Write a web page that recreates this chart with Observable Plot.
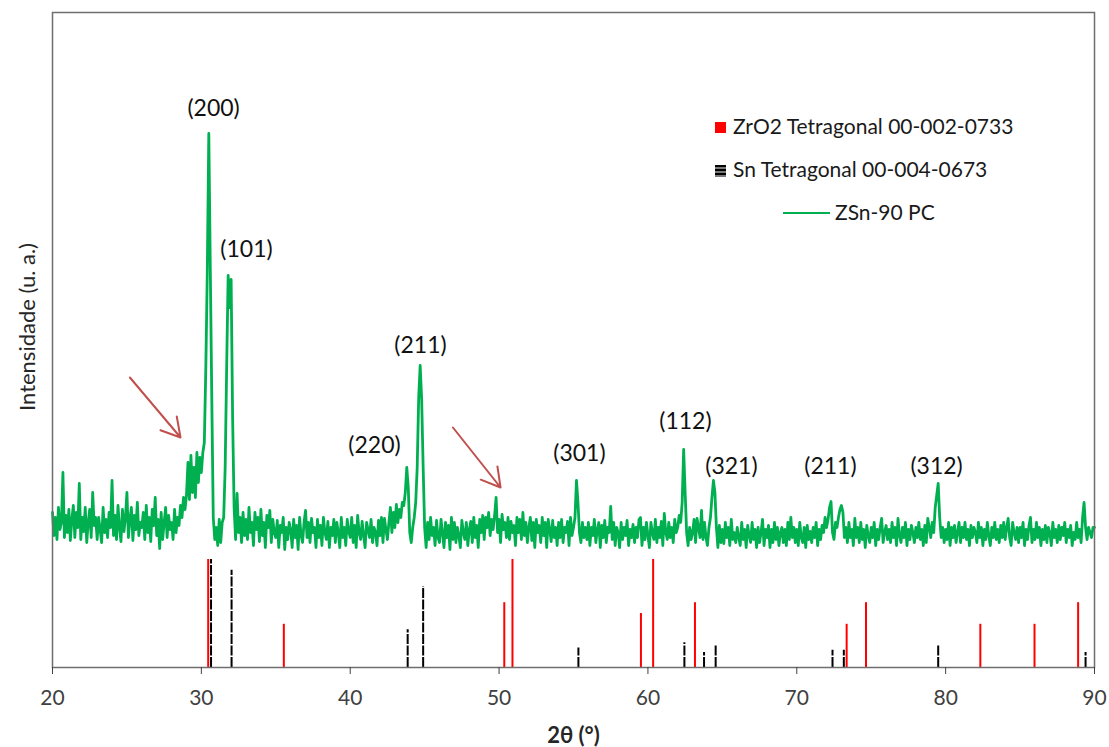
<!DOCTYPE html>
<html><head><meta charset="utf-8">
<script src="https://cdn.jsdelivr.net/npm/d3@7"></script>
<script src="https://cdn.jsdelivr.net/npm/@observablehq/plot@0.6"></script>
<style>
html,body{margin:0;padding:0;background:#fff;}
#chart{position:relative;width:1109px;height:747px;}
</style></head><body><div id="chart"></div>
<script>
// XRD pattern ZSn-90 PC, 2θ from 20° to 90° every 0.1°, intensity in arbitrary units
const thetaStart = 20, thetaStep = 0.1;
const intensity = [
155,132,150,128,160,138,145,195,130,152,
135,158,127,148,162,130,155,140,184,128,
150,136,160,125,145,158,130,175,142,150,
128,150,138,125,160,135,148,130,155,140,
187,132,152,128,162,140,126,158,136,150,
175,130,148,160,127,152,138,165,132,145,
140,155,128,162,135,150,126,158,142,170,
132,148,119,155,128,145,160,130,152,138,
145,128,158,135,150,142,162,150,170,158,
172,205,168,212,175,200,170,215,185,210,
195,215,225,300,397,534,400,270,150,128,
140,122,148,125,145,150,200,300,392,360,
388,250,160,128,174,135,150,125,155,132,
148,128,160,135,145,122,155,138,150,126,
158,132,145,120,152,140,157,125,148,135,
130,147,120,142,135,150,118,140,128,145,
138,120,148,130,142,118,150,132,125,145,
157,130,145,125,149,135,140,120,148,130,
142,122,150,135,128,146,120,140,132,148,
125,145,135,120,150,130,140,122,148,136,
130,150,125,142,120,152,135,128,146,132,
120,145,138,130,148,125,140,135,122,147,
132,150,125,149,138,128,145,160,135,155,
140,163,145,158,150,165,162,175,200,180,
135,125,140,150,165,200,270,302,268,200,
140,120,145,128,150,132,140,122,147,130,
125,148,135,120,145,130,142,118,150,128,
145,125,140,132,120,147,135,128,145,122,
138,146,125,150,130,142,120,148,135,152,
128,150,140,155,132,148,138,152,170,135,
148,125,153,138,145,130,150,128,146,135,
142,122,150,135,148,128,155,132,145,125,
140,150,127,145,120,148,135,142,125,150,
132,145,120,148,138,126,147,130,140,122,
145,130,148,125,140,135,146,122,150,132,
140,150,187,165,135,125,145,130,140,128,
145,122,140,132,148,125,138,145,120,142,
130,147,125,140,135,161,128,145,122,140,
135,120,145,128,140,132,147,122,138,130,
143,125,140,130,148,150,122,140,128,145,
132,120,145,135,128,148,125,140,130,146,
122,154,135,128,145,130,140,125,148,135,
140,152,145,165,218,175,135,122,140,128,
135,148,125,149,140,130,157,128,145,130,
122,140,150,170,187,175,140,120,142,125,
138,124,145,130,140,122,148,128,135,125,
140,130,122,145,128,138,120,142,132,125,
145,128,138,120,140,125,135,148,122,138,
130,142,120,138,125,145,128,140,122,135,
140,125,138,122,145,128,150,130,140,125,
138,122,145,130,125,140,120,142,128,136,
125,140,130,145,122,138,128,142,135,150,
140,148,160,166,135,128,145,140,150,158,
162,155,130,140,125,145,130,138,122,149,
130,140,125,145,128,138,120,142,132,125,
140,130,145,122,138,128,140,149,125,135,
142,128,138,125,145,130,140,122,149,132,
125,140,130,145,122,138,128,142,135,125,
140,130,145,128,138,122,142,125,149,140,
130,145,135,160,172,184,150,130,140,125,
138,128,145,122,140,130,142,125,135,145,
125,140,130,145,128,138,122,142,130,140,
135,125,145,130,140,122,138,128,145,132,
122,140,130,145,128,138,125,142,130,145,
128,140,149,130,122,145,135,128,140,125,
140,130,145,122,138,128,142,150,125,138,
128,145,130,140,122,138,128,142,125,140,
135,122,145,130,138,125,142,128,140,132,
145,125,138,130,142,122,135,128,145,130,
138,125,150,165,140,128,140,135,130,140,
140
];

// Reference patterns (relative intensity, %)
const zrPos = [30.46, 35.54, 50.35, 50.9, 59.53, 60.35, 63.16, 73.35, 74.65, 82.33, 85.97, 88.9];
const zrInt = [100, 40, 60, 100, 50, 100, 60, 40, 60, 40, 40, 60];
const snPos = [30.65, 32.03, 43.86, 44.9, 55.33, 62.45, 63.77, 64.55, 72.4, 73.16, 79.5, 89.4];
const snInt = [100, 90, 35, 75, 18, 23, 14, 20, 16, 16, 20, 14];

// Peak annotations
const hklLabels = ["(200)", "(101)", "(220)", "(211)", "(301)", "(112)", "(321)", "(211)", "(312)"];
const hklX = [30.82, 33.03, 41.63, 44.72, 55.4, 62.52, 65.61, 72.26, 79.39];
const hklY = [559, 418, 222, 322, 214, 246, 201, 201, 201];

// Red arrows
const arrowX1 = [25.2, 46.9], arrowY1 = [290, 240];
const arrowX2 = [28.6, 50.1], arrowY2 = [230, 180];

const xTicks = [20, 30, 40, 50, 60, 70, 80, 90];
const legendLabels = ["ZrO2 Tetragonal 00-002-0733", "Sn Tetragonal 00-004-0673", "ZSn-90 PC"];

const stickScale = 1.08;
const pattern = intensity.map((v, i) => ({t: thetaStart + i * thetaStep, v}));
const zr = zrPos.map((t, i) => ({t, h: zrInt[i] * stickScale}));
const sn = snPos.map((t, i) => ({t, h: snInt[i] * stickScale}));
const hkl = hklLabels.map((s, i) => ({s, x: hklX[i], y: hklY[i]}));
const arrows = arrowX1.map((x, i) => ({x1: x, y1: arrowY1[i], x2: arrowX2[i], y2: arrowY2[i]}));

const font = "Lato, 'Open Sans', sans-serif";
const plot = Plot.plot({
  width: 1109, height: 747,
  marginLeft: 52, marginRight: 15, marginTop: 12, marginBottom: 80,
  x: {domain: [20, 90]},
  y: {domain: [0, 655], axis: null},
  style: {fontFamily: font, background: "#fff", color: "#262626"},
  marks: [
    Plot.ruleX(zr, {x: "t", y1: 0, y2: "h", stroke: "#ff0000", strokeWidth: 2}),
    Plot.ruleX(sn, {x: "t", y1: 0, y2: "h", stroke: "#000", strokeWidth: 2, strokeDasharray: "10,1.5"}),
    Plot.line(pattern, {x: "t", y: "v", stroke: "#00b050", strokeWidth: 2.8}),
    Plot.frame({stroke: "#6e6e6e", strokeWidth: 1.5}),
    Plot.axisX({ticks: xTicks, tickSize: 7, tickPadding: 16, fontSize: 21, label: null, color: "#404040"}),
    Plot.text(hkl, {x: "x", y: "y", text: "s", fontSize: 23, fill: "#111"}),
    Plot.arrow(arrows, {x1: "x1", y1: "y1", x2: "x2", y2: "y2", stroke: "#c0504d", strokeWidth: 2, headLength: 16}),
    Plot.text(["Intensidade (u. a.)"], {text: d => d, frameAnchor: "left", textAnchor: "middle", lineAnchor: "middle", dx: -25, dy: -13, rotate: -90, fontSize: 22, fill: "#262626"}),
    Plot.text(["2θ (°)"], {text: d => d, frameAnchor: "bottom", textAnchor: "middle", lineAnchor: "middle", dy: 68, fontWeight: "bold", fontSize: 22, fill: "#262626"})
  ]
});

// Legend
const svg = d3.select(plot);
const lg = svg.append("g").attr("font-family", font).attr("font-size", 21).attr("fill", "#1a1a1a").attr("text-anchor", "start");
lg.append("rect").attr("x", 715).attr("y", 122).attr("width", 11).attr("height", 11).attr("fill", "#ff0000");
const snMark = lg.append("g");
for (let k = 0; k < 6; k++) {
  snMark.append("rect").attr("x", 715).attr("y", 165 + k * 2).attr("width", 11).attr("height", 2)
    .attr("fill", k % 2 ? "#7a7a7a" : "#000");
}
lg.append("line").attr("x1", 783).attr("x2", 830).attr("y1", 213).attr("y2", 213)
  .attr("stroke", "#00b050").attr("stroke-width", 2);
const ly = [127, 170, 213], lx = [733, 733, 835];
legendLabels.forEach((t, i) => {
  lg.append("text").attr("x", lx[i]).attr("y", ly[i]).attr("dy", "0.35em").attr("text-anchor", "start").text(t);
});

document.getElementById("chart").appendChild(plot);
</script>
</body></html>
